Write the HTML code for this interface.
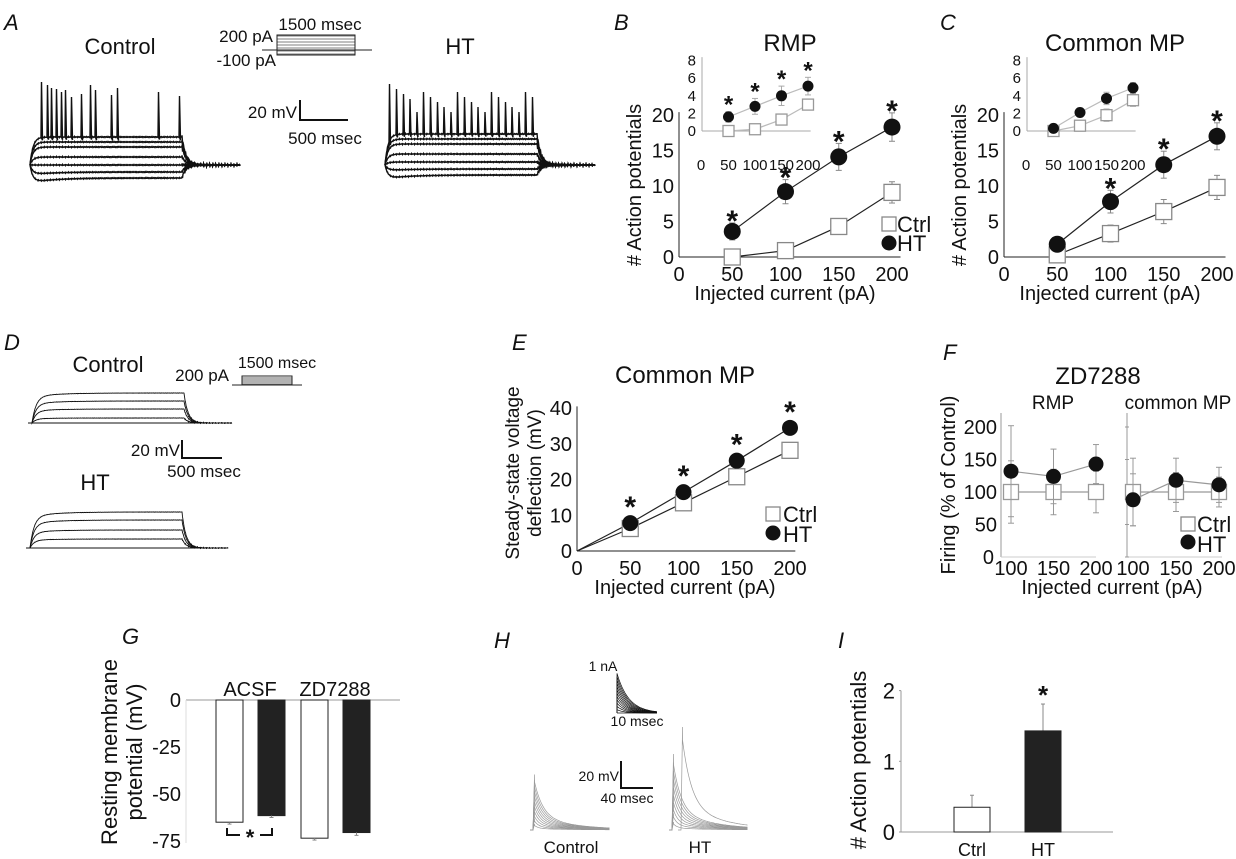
<!DOCTYPE html>
<html><head><meta charset="utf-8"><title>Figure</title>
<style>
html,body{margin:0;padding:0;background:#fff;}
svg{display:block;font-family:"Liberation Sans",Arial,sans-serif;}
</style></head>
<body>
<svg id="fig" width="1236" height="859" viewBox="0 0 1236 859" xmlns="http://www.w3.org/2000/svg"></svg>
<script>
// ---------- data ----------
const currents = [50, 100, 150, 200];
const bHT = [3.6, 9.2, 14.1, 18.3];
const bHTerr = [1.2, 1.7, 1.9, 2.0];
const bCtrl = [0, 0.9, 4.3, 9.1];
const bCtrlErr = [0.3, 0.6, 1.1, 1.5];
const biHT = [1.6, 2.8, 4.0, 5.1];
const biHTerr = [0.6, 0.9, 1.1, 1.0];
const biCtrl = [0, 0.2, 1.3, 3.0];
const biCtrlErr = [0.2, 0.3, 0.5, 0.6];
const cHT = [1.8, 7.8, 13, 17];
const cHTerr = [0.5, 1.6, 1.9, 1.9];
const cCtrl = [0.3, 3.3, 6.4, 9.8];
const cCtrlErr = [0.3, 1.2, 1.7, 1.7];
const ciHT = [0.3, 2.1, 3.7, 4.9];
const ciHTerr = [0.2, 0.5, 0.7, 0.6];
const ciCtrl = [0, 0.6, 1.8, 3.5];
const ciCtrlErr = [0.1, 0.5, 0.7, 0.7];
const eHT = [7.8, 16.5, 25.3, 34.5];
const eCtrl = [6.3, 13.5, 20.8, 28.2];
const fX = [100, 150, 200];
const fL_HT = [132, 124, 143];
const fL_HTerr = [70, 42, 30];
const fL_Ctrl = [100, 100, 100];
const fL_CtrlErr = [48, 35, 32];
const fR_HT = [88, 118, 111];
const fR_HTerr = [40, 34, 27];
const fR_Ctrl = [100, 100, 100];
const fR_CtrlErr = [52, 30, 23];
const gCats = ["ACSF", "ZD7288"];
const gVals = [-65, -61.5, -73.5, -70.5];
const gErr = [1, 1, 1, 1.5];
const iCats = ["Ctrl", "HT"];
const iVals = [0.35, 1.43];
const iErr = [0.17, 0.38];
const ticks20 = [0, 5, 10, 15, 20];
const ticksInset = [0, 2, 4, 6, 8];
const ticksX = [0, 50, 100, 150, 200];
const ticksE = [0, 10, 20, 30, 40];
const ticksF = [0, 50, 100, 150, 200];
const ticksG = [0, -25, -50, -75];
const ticksI = [0, 1, 2];

// ---------- helpers ----------
const NS = 'http://www.w3.org/2000/svg';
const svg = document.getElementById('fig');
function mk(tag, attrs, name, parent) {
  const el = document.createElementNS(NS, tag);
  for (const k in attrs) el.setAttribute(k, attrs[k]);
  
  
  (parent || svg).appendChild(el);
  return el;
}
function txt(x, y, s, size, anchor, name, extra) {
  const a = Object.assign({x: x, y: y, 'font-size': size, 'text-anchor': anchor || 'start', fill: '#111'}, extra || {});
  const t = mk('text', a, name);
  t.textContent = s;
  return t;
}
function vtxt(x, y, s, size, name) {
  return txt(x, y, s, size, 'middle', name, {transform: 'rotate(-90 ' + x + ' ' + y + ')'});
}
function line(x1, y1, x2, y2, stroke, w, name, parent) {
  return mk('line', {x1: x1, y1: y1, x2: x2, y2: y2, stroke: stroke, 'stroke-width': w}, name, parent);
}
function series(xs, ys, errs, xf, yf, kind, size, lineCol, errCol, markCol, name) {
  const g = mk('g', {}, name);
  let d = '';
  xs.forEach((v, i) => { d += (i ? 'L' : 'M') + xf(v) + ' ' + yf(ys[i]); });
  mk('path', {d: d, fill: 'none', stroke: lineCol, 'stroke-width': 1.2}, name + '-line', g);
  xs.forEach((v, i) => {
    if (errs) {
      const x = xf(v), y1 = yf(ys[i] + errs[i]), y2 = yf(ys[i] - errs[i]);
      line(x, y1, x, y2, errCol, 1, name + '-error-bar', g);
      line(x - 3, y1, x + 3, y1, errCol, 1, name + '-error-cap', g);
      line(x - 3, y2, x + 3, y2, errCol, 1, name + '-error-cap', g);
    }
  });
  xs.forEach((v, i) => {
    const x = xf(v), y = yf(ys[i]);
    if (kind === 'circle') mk('circle', {cx: x, cy: y, r: size, fill: markCol}, name + '-point', g);
    else mk('rect', {x: x - size, y: y - size, width: 2 * size, height: 2 * size, fill: '#fff', stroke: markCol, 'stroke-width': 1.3}, name + '-point', g);
  });
  return g;
}
function stars(xs, tops, xf, yf, off, size, name) {
  xs.forEach((v, i) => { txt(xf(v), yf(tops[i]) + off, '*', size, 'middle', name, {'font-weight': 'bold'}); });
}

// ---------- panel labels ----------
[['A', 4, 30], ['B', 614, 30], ['C', 940, 30], ['D', 4, 350], ['E', 512, 350], ['F', 943, 360], ['G', 122, 644], ['H', 494, 648], ['I', 838, 648]].forEach(p => {
  txt(p[1], p[2], p[0], 22, 'start', 'panel-label-' + p[0].toLowerCase(), {'font-style': 'italic'});
});

// ---------- Panel A traces ----------
function noise(x, a) { return a * (Math.sin(x * 7.31) * 0.6 + Math.sin(x * 3.17 + 1) * 0.4); }
function trace(x0, x1, x2, base, level, spikes, tau, sag, nz, w, col, name) {
  let d = 'M' + x0 + ' ' + base;
  let si = 0;
  let v = base;
  for (let x = x0; x <= x1; x += 0.5) {
    const t = x - x0;
    v = base + (level - base) * (1 - Math.exp(-t / tau)) + (level - base) * sag * Math.exp(-t / 25) * (1 - Math.exp(-t / tau)) + noise(x, nz);
    d += ' L' + x.toFixed(1) + ' ' + v.toFixed(1);
    if (si < spikes.length && x >= spikes[si][0]) {
      d += ' L' + (x + 0.5) + ' ' + spikes[si][1] + ' L' + (x + 1.5) + ' ' + (v + 3).toFixed(1);
      si++;
    }
  }
  const vend = v;
  for (let x = x1; x <= x2; x += 0.5) {
    const t = x - x1;
    const vv = base + (vend - base) * Math.exp(-t / 4) + noise(x, nz * 2.5 * Math.exp(-t / 40) + nz * 0.8);
    d += ' L' + x.toFixed(1) + ' ' + vv.toFixed(1);
  }
  return mk('path', {d: d, fill: 'none', stroke: col, 'stroke-width': w}, name);
}
txt(120, 54, 'Control', 22, 'middle', 'control-label-a');
txt(460, 54, 'HT', 22, 'middle', 'ht-label-a');
txt(273, 42, '200 pA', 17, 'end', 'stim-200pa');
txt(276, 66, '-100 pA', 17, 'end', 'stim-minus100pa');
txt(320, 30, '1500 msec', 17, 'middle', 'stim-duration');
line(262, 50, 372, 50, '#222', 1, 'stim-baseline');
for (let k = 0; k < 7; k++) line(277, 36 + k * 3, 355, 36 + k * 3, '#555', 0.8, 'stim-step');
mk('rect', {x: 277, y: 35, width: 78, height: 20, fill: 'none', stroke: '#222', 'stroke-width': 1}, 'stim-box');
line(300, 100, 300, 121, '#111', 2, 'scale-bar-vertical-a');
line(299, 120, 348, 120, '#111', 2, 'scale-bar-horizontal-a');
txt(297, 118, '20 mV', 17, 'end', 'scale-mv-a');
txt(325, 144, '500 msec', 17, 'middle', 'scale-ms-a');
const aLevels = [137, 142, 147, 157, 165, 172, 178];
const aCtrlSpikes = [[41, 82], [47, 85], [51, 88], [56, 89], [61, 92], [65, 90], [71, 97], [81, 94], [90, 85], [95, 90], [111, 95], [117, 88], [158, 92], [179, 96]];
aLevels.forEach((lv, i) => {
  trace(30, 182, 240, 165, lv, i === 0 ? aCtrlSpikes : [], 3, lv > 165 ? 0.35 : 0, 0.6, 1.4, '#111', 'control-trace-a');
});
const aHTSpikes = [];
for (let k = 0; k < 22; k++) aHTSpikes.push([389 + k * 6.8, 84 + (k % 5) * 5 + (k > 3 ? 8 : 0)]);
aLevels.forEach((lv, i) => {
  trace(385, 537, 595, 165, lv - 3, i === 0 ? aHTSpikes : [], 3, lv > 165 ? 0.35 : 0, 0.6, 1.4, '#111', 'ht-trace-a');
});

// ---------- Panel B & C ----------
function firingPanel(off, title, ht, hte, ct, cte, iht, ihte, ict, icte, starIdx, istars, legend, key) {
  const xf = v => 679 + off + v * 1.065;
  const yf = v => 257 - v * 7.1;
  const ixf = v => 702 + off + v * 0.53;
  const iyf = v => 131 - v * 8.8;
  txt(790 + off, 51, title, 24, 'middle', key + '-title');
  line(ixf(0), iyf(0), ixf(0), iyf(8.4), '#aaa', 1, key + '-inset-y-axis');
  line(ixf(0), iyf(0), ixf(205), iyf(0), '#aaa', 1, key + '-inset-x-axis');
  ticksInset.forEach(t => txt(ixf(0) - 6, iyf(t) + 5, String(t), 15, 'end', key + '-inset-y-tick'));
  ticksX.forEach(t => txt(ixf(t) + (t === 0 ? -1 : 0), 170, String(t), 15, 'middle', key + '-inset-x-tick'));
  series(currents, ict, icte, ixf, iyf, 'rect', 5.5, '#bbb', '#aaa', '#999', key + '-inset-ctrl');
  series(currents, iht, ihte, ixf, iyf, 'circle', 5.5, '#bbb', '#aaa', '#111', key + '-inset-ht');
  if (istars) stars(currents, iht.map((v, i) => v + ihte[i]), ixf, iyf, 1, 24, key + '-inset-star');
  line(xf(0), yf(0), xf(0), yf(20.4), '#222', 1, key + '-y-axis');
  line(xf(0), yf(0), xf(208), yf(0), '#222', 1, key + '-x-axis');
  ticks20.forEach(t => txt(xf(0) - 5, yf(t) + 7, String(t), 20, 'end', key + '-y-tick'));
  ticksX.forEach(t => txt(xf(t), 281, String(t), 20, 'middle', key + '-x-tick'));
  vtxt(641 + off, 185, '# Action potentials', 20, key + '-y-axis-title');
  txt(785 + off, 300, 'Injected current (pA)', 20, 'middle', key + '-x-axis-title');
  series(currents, ct, cte, xf, yf, 'rect', 8, '#222', '#888', '#888', key + '-ctrl-series');
  series(currents, ht, hte, xf, yf, 'circle', 8.5, '#222', '#888', '#111', key + '-ht-series');
  const sx = currents.filter((v, i) => starIdx.includes(i));
  const st = ht.map((v, i) => v + hte[i]).filter((v, i) => starIdx.includes(i));
  stars(sx, st, xf, yf, 8, 30, key + '-star');
  if (legend) {
    mk('rect', {x: 882, y: 217, width: 14, height: 14, fill: '#fff', stroke: '#888', 'stroke-width': 1.3}, 'legend-ctrl-marker');
    txt(897, 232, 'Ctrl', 22, 'start', 'legend-ctrl-label');
    mk('circle', {cx: 889, cy: 243, r: 7.5, fill: '#111'}, 'legend-ht-marker');
    txt(897, 251, 'HT', 22, 'start', 'legend-ht-label');
  }
}
firingPanel(0, 'RMP', bHT, bHTerr, bCtrl, bCtrlErr, biHT, biHTerr, biCtrl, biCtrlErr, [0, 1, 2, 3], true, true, 'panel-b');
firingPanel(325, 'Common MP', cHT, cHTerr, cCtrl, cCtrlErr, ciHT, ciHTerr, ciCtrl, ciCtrlErr, [1, 2, 3], false, false, 'panel-c');

// ---------- Panel D ----------
txt(108, 372, 'Control', 22, 'middle', 'control-label-d');
txt(95, 490, 'HT', 22, 'middle', 'ht-label-d');
txt(229, 381, '200 pA', 17, 'end', 'stim-200pa-d');
txt(277, 368, '1500 msec', 16, 'middle', 'stim-duration-d');
line(232, 385, 302, 385, '#222', 1, 'stim-baseline-d');
for (let k = 0; k < 5; k++) line(242, 376 + k * 2, 292, 376 + k * 2, '#333', 0.8, 'stim-step-d');
mk('rect', {x: 242, y: 376, width: 50, height: 9, fill: 'none', stroke: '#222', 'stroke-width': 1}, 'stim-box-d');
line(182, 440, 182, 459, '#111', 2, 'scale-bar-vertical-d');
line(181, 458, 222, 458, '#111', 2, 'scale-bar-horizontal-d');
txt(180, 456, '20 mV', 17, 'end', 'scale-mv-d');
txt(204, 477, '500 msec', 17, 'middle', 'scale-ms-d');
[393, 401, 409, 418].forEach(lv => trace(32, 184, 232, 423, lv, [], 4, -0.12, 0.2, 0.9, '#111', 'control-trace-d'));
line(28, 423, 232, 423, '#111', 1, 'control-baseline-d');
[512, 520, 530, 539].forEach(lv => trace(30, 182, 228, 548, lv, [], 4, -0.12, 0.2, 0.9, '#111', 'ht-trace-d'));
line(26, 548, 228, 548, '#111', 1, 'ht-baseline-d');

// ---------- Panel E ----------
(function () {
  const xf = v => 577 + v * 1.065;
  const yf = v => 551 - v * 3.57;
  txt(685, 383, 'Common MP', 24, 'middle', 'panel-e-title');
  line(xf(0), yf(0), xf(0), yf(40.5), '#222', 1, 'panel-e-y-axis');
  line(xf(0), yf(0), xf(205), yf(0), '#222', 1, 'panel-e-x-axis');
  ticksE.forEach(t => txt(xf(0) - 5, yf(t) + 7, String(t), 20, 'end', 'panel-e-y-tick'));
  ticksX.forEach(t => txt(xf(t), 575, String(t), 20, 'middle', 'panel-e-x-tick'));
  vtxt(519, 473, 'Steady-state voltage', 19, 'panel-e-y-axis-title-1');
  vtxt(541, 473, 'deflection (mV)', 19, 'panel-e-y-axis-title-2');
  txt(685, 594, 'Injected current (pA)', 20, 'middle', 'panel-e-x-axis-title');
  series([0].concat(currents), [0].concat(eCtrl), null, xf, yf, 'rect', 0, '#222', '#888', '#888', 'panel-e-ctrl-line');
  series([0].concat(currents), [0].concat(eHT), null, xf, yf, 'circle', 0, '#222', '#888', '#111', 'panel-e-ht-line');
  series(currents, eCtrl, null, xf, yf, 'rect', 8, 'none', '#888', '#888', 'panel-e-ctrl-series');
  series(currents, eHT, null, xf, yf, 'circle', 8, 'none', '#888', '#111', 'panel-e-ht-series');
  stars(currents, eHT, xf, yf, -6, 30, 'panel-e-star');
  mk('rect', {x: 766, y: 507, width: 14, height: 14, fill: '#fff', stroke: '#888', 'stroke-width': 1.3}, 'panel-e-legend-ctrl-marker');
  txt(783, 522, 'Ctrl', 22, 'start', 'panel-e-legend-ctrl-label');
  mk('circle', {cx: 773, cy: 533, r: 7.5, fill: '#111'}, 'panel-e-legend-ht-marker');
  txt(783, 542, 'HT', 22, 'start', 'panel-e-legend-ht-label');
})();

// ---------- Panel F ----------
(function () {
  const yf = v => 557 - v * 0.65;
  const lxf = v => 1011 + (v - 100) * 0.85;
  const rxf = v => 1133 + (v - 100) * 0.86;
  txt(1098, 384, 'ZD7288', 24, 'middle', 'panel-f-title');
  txt(1053, 409, 'RMP', 19, 'middle', 'panel-f-rmp-label');
  txt(1178, 409, 'common MP', 19, 'middle', 'panel-f-common-mp-label');
  line(1001, 557, 1001, 413, '#999', 1, 'panel-f-left-y-axis');
  line(1001, 557, 1096, 557, '#ccc', 1, 'panel-f-left-x-axis');
  line(1127, 557, 1127, 413, '#999', 1, 'panel-f-right-y-axis');
  line(1127, 557, 1222, 557, '#ccc', 1, 'panel-f-right-x-axis');
  ticksF.forEach(t => {
    txt(t === 0 ? 994 : 997, yf(t) + 7, String(t), 20, 'end', 'panel-f-y-tick');
    line(1125, yf(t), 1129, yf(t), '#999', 1, 'panel-f-right-tick');
  });
  fX.forEach(t => { txt(lxf(t), 575, String(t), 20, 'middle', 'panel-f-left-x-tick'); txt(rxf(t), 575, String(t), 20, 'middle', 'panel-f-right-x-tick'); });
  vtxt(955, 485, 'Firing (% of Control)', 20, 'panel-f-y-axis-title');
  txt(1112, 594, 'Injected current (pA)', 20, 'middle', 'panel-f-x-axis-title');
  series(fX, fL_Ctrl, fL_CtrlErr, lxf, yf, 'rect', 7.5, '#999', '#999', '#999', 'panel-f-rmp-ctrl');
  series(fX, fL_HT, fL_HTerr, lxf, yf, 'circle', 7.5, '#999', '#999', '#111', 'panel-f-rmp-ht');
  series(fX, fR_Ctrl, fR_CtrlErr, rxf, yf, 'rect', 7.5, '#999', '#999', '#999', 'panel-f-cmp-ctrl');
  series(fX, fR_HT, fR_HTerr, rxf, yf, 'circle', 7.5, '#999', '#999', '#111', 'panel-f-cmp-ht');
  mk('rect', {x: 1181, y: 517, width: 14, height: 14, fill: '#fff', stroke: '#888', 'stroke-width': 1.3}, 'panel-f-legend-ctrl-marker');
  txt(1197, 532, 'Ctrl', 22, 'start', 'panel-f-legend-ctrl-label');
  mk('circle', {cx: 1188, cy: 542, r: 7.5, fill: '#111'}, 'panel-f-legend-ht-marker');
  txt(1197, 552, 'HT', 22, 'start', 'panel-f-legend-ht-label');
})();

// ---------- Panel G ----------
(function () {
  const yf = v => 700 - v * 1.88;
  const barX = [216, 258, 301, 343];
  const bw = 27;
  line(186, 700, 400, 700, '#999', 1, 'panel-g-zero-line');
  line(186, 700, 186, 843, '#ddd', 1, 'panel-g-y-axis');
  ticksG.forEach(t => txt(181, yf(t) + 7, String(t), 20, 'end', 'panel-g-y-tick'));
  gCats.forEach((c, i) => txt([250, 335][i], 696, c, 20, 'middle', 'panel-g-category-label'));
  gVals.forEach((v, i) => {
    const fill = i % 2 ? '#222' : '#fff';
    mk('rect', {x: barX[i], y: yf(0), width: bw, height: yf(v) - yf(0), fill: fill, stroke: '#222', 'stroke-width': 1}, 'panel-g-bar');
    line(barX[i] + bw / 2, yf(v), barX[i] + bw / 2, yf(v - gErr[i]), '#888', 1, 'panel-g-error-bar');
    line(barX[i] + bw / 2 - 2, yf(v - gErr[i]), barX[i] + bw / 2 + 2, yf(v - gErr[i]), '#888', 1, 'panel-g-error-cap');
  });
  mk('path', {d: 'M227 828 L227 835 L240 835 M260 835 L272 835 L272 828', fill: 'none', stroke: '#111', 'stroke-width': 2}, 'panel-g-significance-bracket');
  txt(250, 845, '*', 22, 'middle', 'panel-g-star', {'font-weight': 'bold'});
  vtxt(117, 752, 'Resting membrane', 22, 'panel-g-y-axis-title-1');
  vtxt(142, 752, 'potential (mV)', 22, 'panel-g-y-axis-title-2');
})();

// ---------- Panel H ----------
(function () {
  txt(603, 671, '1 nA', 14, 'middle', 'panel-h-current-scale');
  for (let k = 0; k < 13; k++) {
    const pk = 713 - k * 3.3;
    let d = 'M617 713 L617 ' + pk.toFixed(1);
    for (let x = 617; x <= 657; x += 1) d += ' L' + x + ' ' + (713 - (713 - pk) * Math.exp(-(x - 617) / (7 + k * 0.4))).toFixed(1);
    mk('path', {d: d, fill: 'none', stroke: '#111', 'stroke-width': 0.7}, 'panel-h-current-trace');
  }
  txt(637, 726, '10 msec', 14, 'middle', 'panel-h-time-scale-small');
  line(621, 761, 621, 789, '#111', 2, 'panel-h-scale-vertical');
  line(620, 788, 653, 788, '#111', 2, 'panel-h-scale-horizontal');
  txt(619, 781, '20 mV', 14, 'end', 'panel-h-mv-scale');
  txt(627, 803, '40 msec', 14, 'middle', 'panel-h-ms-scale');
  function epsp(x0, xEnd, base, peaks, name) {
    peaks.forEach((p, k) => {
      let d = 'M' + (x0 - 3) + ' ' + base + ' L' + x0 + ' ' + base + ' L' + (x0 + 1.5) + ' ' + p[0];
      for (let x = x0 + 1.5; x <= xEnd; x += 1) d += ' L' + x.toFixed(1) + ' ' + (base - (base - p[0]) * (0.75 * Math.exp(-(x - x0) / p[1]) + 0.25 * Math.exp(-(x - x0) / 40))).toFixed(1);
      mk('path', {d: d, fill: 'none', stroke: '#999', 'stroke-width': 0.7}, name);
    });
  }
  const cp = [];
  for (let k = 0; k < 10; k++) cp.push([830 - 6 - k * 5.5, 4 + k * 0.5]);
  epsp(533, 610, 830, cp, 'panel-h-control-trace');
  const hp = [];
  for (let k = 0; k < 9; k++) hp.push([830 - 8 - k * 8.5, 4 + k * 0.5]);
  epsp(672, 748, 830, hp, 'panel-h-ht-trace');
  epsp(681, 748, 830, [[727, 9]], 'panel-h-ht-spike-trace');
  txt(571, 853, 'Control', 17, 'middle', 'panel-h-control-label');
  txt(700, 853, 'HT', 17, 'middle', 'panel-h-ht-label');
})();

// ---------- Panel I ----------
(function () {
  const yf = v => 832 - v * 70.7;
  const barX = [954, 1025];
  const bw = 36;
  line(901, yf(0), 901, yf(2), '#999', 1, 'panel-i-y-axis');
  line(901, yf(0), 1113, yf(0), '#999', 1, 'panel-i-x-axis');
  ticksI.forEach(t => { txt(895, yf(t) + 8, String(t), 22, 'end', 'panel-i-y-tick'); line(899, yf(t), 901, yf(t), '#999', 1, 'panel-i-tick'); });
  iVals.forEach((v, i) => {
    const cx = barX[i] + bw / 2;
    line(cx, yf(v), cx, yf(v + iErr[i]), '#888', 1, 'panel-i-error-bar');
    line(cx - 2, yf(v + iErr[i]), cx + 2, yf(v + iErr[i]), '#888', 1, 'panel-i-error-cap');
    mk('rect', {x: barX[i], y: yf(v), width: bw, height: yf(0) - yf(v), fill: i ? '#222' : '#fff', stroke: '#222', 'stroke-width': 1}, 'panel-i-bar');
    txt(cx, 856, iCats[i], 18, 'middle', 'panel-i-category-label');
  });
  txt(1043, 704, '*', 26, 'middle', 'panel-i-star', {'font-weight': 'bold'});
  vtxt(866, 760, '# Action potentials', 22, 'panel-i-y-axis-title');
})();
</script>
</body></html>
